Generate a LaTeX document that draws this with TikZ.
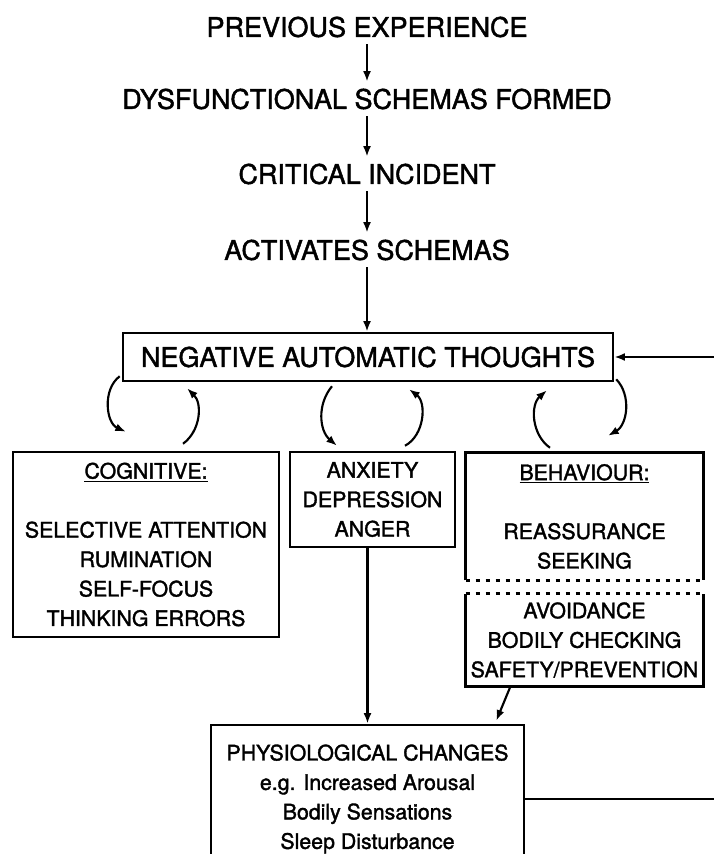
\documentclass[tikz,border=0pt]{standalone}
\usepackage{fontspec}
\setmainfont{TeX Gyre Heros}[FakeBold=1.6]
\usetikzlibrary{arrows.meta}
\tikzset{
  big/.style={font=\fontsize{20.25}{24}\selectfont,inner sep=5pt},
  small/.style={font=\fontsize{16}{22.1}\selectfont,align=center,inner sep=0pt},
  box/.style={draw,line width=1.9pt},
  edge/.style={line width=1.9pt},
  dashline/.style={line width=1.9pt,dash pattern=on 3pt off 4.5pt},
  arr/.style={line width=1.6pt,-{Latex[length=8pt,width=6pt]}},
}
\begin{document}
\begin{tikzpicture}[x=0.75pt,y=-0.75pt]
\useasboundingbox (0,0) rectangle (714,854);
\node[big] (prev) at (367,27) {PREVIOUS EXPERIENCE};
\node[big] (dysf) at (367,99) {DYSFUNCTIONAL SCHEMAS FORMED};
\node[big] (crit) at (367,174) {CRITICAL INCIDENT};
\node[big] (act) at (367,250) {ACTIVATES SCHEMAS};
\node[box,big,inner sep=0pt,minimum width=367.5pt,minimum height=36pt] (nat) at (368,357) {NEGATIVE AUTOMATIC THOUGHTS};
\node[box,small,minimum width=199.5pt,minimum height=138.75pt] (cog) at (146,544.5)
  {\underline{COGNITIVE:}\\[22.1pt]SELECTIVE ATTENTION\\RUMINATION\\SELF-FOCUS\\THINKING ERRORS};
\node[box,small,minimum width=123.75pt,minimum height=71.25pt] (mid) at (372.5,499.5)
  {ANXIETY\\DEPRESSION\\ANGER};
\node[small,minimum width=177.75pt,minimum height=95.25pt] (behtop) at (584.5,516.5)
  {\underline{BEHAVIOUR:}\\[22.1pt]REASSURANCE\\SEEKING};
\node[small,minimum width=177.75pt,minimum height=69pt] (behlow) at (584.5,640)
  {AVOIDANCE\\BODILY CHECKING\\SAFETY/PREVENTION};
\node[box,small,minimum width=234.75pt,minimum height=111pt] (phys) at (367.5,799)
  {PHYSIOLOGICAL CHANGES\\e.g. Increased Arousal\\Bodily Sensations\\Sleep Disturbance};
\draw[edge] (behtop.south west) -- (behtop.north west) -- (behtop.north east) -- (behtop.south east);
\draw[dashline] (behtop.south west) -- (behtop.south east);
\draw[edge] (behlow.north west) -- (behlow.south west) -- (behlow.south east) -- (behlow.north east);
\draw[dashline] (behlow.north west) -- (behlow.north east);
\draw[arr] (prev) -- (dysf);
\draw[arr] (dysf) -- (crit);
\draw[arr] (crit) -- (act);
\draw[arr] (act) -- (act |- nat.north);
\draw[arr] ([shift={(-2,-6)}]nat.south west) to[bend right=60] ([shift={(-20,-19)}]cog.north);
\draw[arr] ([shift={(37,-7)}]cog.north) to[bend right=50] ([shift={(-181,6)}]nat.south);
\draw[arr] ([shift={(-36,4)}]nat.south) to[bend right=45] ([shift={(-35.5,-5)}]mid.north);
\draw[arr] ([shift={(32.5,-5)}]mid.north) to[bend right=58] ([shift={(41,7)}]nat.south);
\draw[arr] ([shift={(-34.5,-5)}]behtop.north) to[bend left=52] ([shift={(179,8)}]nat.south);
\draw[arr] ([shift={(2,-3)}]nat.south east) to[bend left=52] ([shift={(23.5,-17)}]behtop.north);
\draw[arr] (mid.south -| phys.north) -- (phys.north);
\draw[arr] ([xshift=-55.5]behlow.south) -- ([shift={(-29,-3)}]phys.north east);
\draw[arr] (phys.east) -- ++(220,0) |- (nat.east);
\end{tikzpicture}
\end{document}
